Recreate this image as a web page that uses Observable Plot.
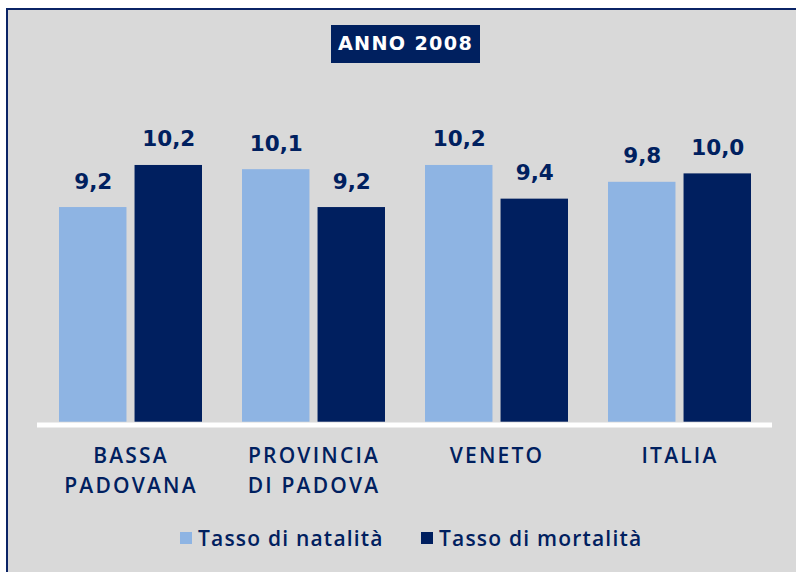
<!DOCTYPE html>
<html>
<head>
<meta charset="utf-8">
<script src="https://cdn.jsdelivr.net/npm/d3@7"></script>
<script src="https://cdn.jsdelivr.net/npm/@observablehq/plot@0.6"></script>
<style>
  html, body { margin: 0; padding: 0; background: #ffffff; }
  body { width: 796px; height: 572px; position: relative; overflow: hidden; font-family: "DejaVu Sans", sans-serif; }
  #panel { position: absolute; left: 6px; top: 8px; width: 790px; height: 564px; background: #d9d9d9;
           border-top: 2px solid #0b2466; border-left: 2px solid #0b2466; box-sizing: border-box; }
  #title { position: absolute; left: 331px; top: 25px; width: 149px; height: 38px; background: #00205f;
           color: #ffffff; font-weight: bold; font-size: 19.2px; letter-spacing: 1.3px; line-height: 38px;
           text-align: center; box-sizing: border-box; }
  #chart { position: absolute; left: 0; top: 0; }
  #chart [aria-label="x-axis tick label"] text { letter-spacing: 2.2px; font-weight: 600; }
  .legend { position: absolute; top: 526px; height: 24px; display: flex; align-items: center;
            font-family: "Open Sans", sans-serif; font-weight: 600;
            font-size: 21px; color: #00205f; letter-spacing: 1.2px; white-space: nowrap; }
  .sw { width: 12px; height: 12px; display: inline-block; margin-right: 6px; }
</style>
</head>
<body>
<div id="panel"></div>
<div id="chart"></div>
<div id="title">ANNO 2008</div>
<div class="legend" style="left:180px"><span class="sw" style="background:#8eb4e3"></span><span id="lg1"></span></div>
<div class="legend" style="left:421px"><span class="sw" style="background:#001f5f"></span><span id="lg2"></span></div>
<script>
// ---- data ----
const categories = ["BASSA PADOVANA", "PROVINCIA DI PADOVA", "VENETO", "ITALIA"];
const tickLabels = ["BASSA\nPADOVANA", "PROVINCIA\nDI PADOVA", "VENETO", "ITALIA"];
const seriesNames = ["Tasso di natalità", "Tasso di mortalità"];
const natalita = [9.2, 10.1, 10.2, 9.8];
const mortalita = [10.2, 9.2, 9.4, 10.0];

const lightBlue = "#8eb4e3";
const navy = "#001f5f";
const textNavy = "#00205f";

document.getElementById("lg1").textContent = seriesNames[0];
document.getElementById("lg2").textContent = seriesNames[1];

const natRows = categories.map((c, i) => ({cat: c, value: natalita[i]}));
const morRows = categories.map((c, i) => ({cat: c, value: mortalita[i]}));
const labelOf = new Map(categories.map((c, i) => [c, tickLabels[i]]));
const fmt = v => v.toFixed(1).replace(".", ",");

// layout
const W = 796, H = 520, mL = 37, mR = 24;
const padIn = 0.219, padOut = 0.109;
const step = (W - mL - mR) / (categories.length - padIn + 2 * padOut);
const bw = step * (1 - padIn);
const barW = 68;
const inset = bw - barW;
const off = bw / 2 - barW / 2;
const yMin = 4.1;

const chart = Plot.plot({
  width: W,
  height: H,
  marginLeft: mL,
  marginRight: mR,
  marginTop: 131.3,
  marginBottom: 98.3,
  style: {background: "transparent", fontFamily: "DejaVu Sans, sans-serif", overflow: "visible"},
  x: {domain: categories, paddingInner: padIn, paddingOuter: padOut, label: null},
  y: {domain: [yMin, 11], axis: null},
  marks: [
    Plot.barY(natRows, {x: "cat", y1: yMin, y2: "value", fill: lightBlue, insetLeft: 0, insetRight: inset}),
    Plot.barY(morRows, {x: "cat", y1: yMin, y2: "value", fill: navy, insetLeft: inset, insetRight: 0}),
    Plot.ruleY([yMin], {stroke: "#ffffff", strokeWidth: 5, dy: 2.8}),
    Plot.text(natRows, {x: "cat", y: "value", text: d => fmt(d.value), dx: -off, dy: -19,
      lineAnchor: "bottom", fill: textNavy, fontSize: 21.5, fontWeight: "bold"}),
    Plot.text(morRows, {x: "cat", y: "value", text: d => fmt(d.value), dx: off, dy: -19,
      lineAnchor: "bottom", fill: textNavy, fontSize: 21.5, fontWeight: "bold"}),
    Plot.axisX({tickSize: 0, tickPadding: 19.5, fontSize: 21, fill: textNavy, lineHeight: 1.43,
      fontFamily: "Open Sans, sans-serif",
      tickFormat: d => labelOf.get(d), label: null})
  ]
});
document.getElementById("chart").appendChild(chart);
</script>
</body>
</html>
